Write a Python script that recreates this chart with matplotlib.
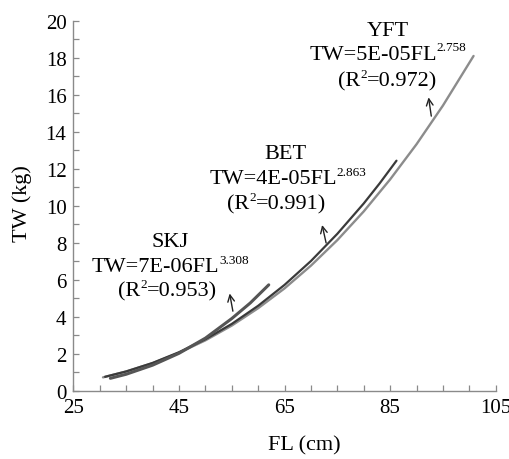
import matplotlib
matplotlib.use('Agg')
import matplotlib.pyplot as plt
from matplotlib.ticker import MultipleLocator, FixedLocator

plt.rcParams['font.family'] = ['Liberation Serif', 'DejaVu Serif']

# values
skj_fl = [32, 35, 40, 45, 50, 55, 58.5, 62]
skj_tw = [0.67, 0.89, 1.38, 2.02, 2.84, 3.9, 4.74, 5.72]

bet_fl = [31, 35, 40, 45, 50, 55, 60, 65, 70, 75, 80, 83, 86.2]
bet_tw = [0.75, 1.04, 1.50, 2.08, 2.78, 3.61, 4.59, 5.72, 7.01, 8.48, 10.12, 11.2, 12.43]

yft_fl = [30.6, 35, 40, 45, 50, 55, 60, 65, 70, 75, 80, 85, 90, 95, 100.8]
yft_tw = [0.72, 1.04, 1.49, 2.05, 2.72, 3.52, 4.46, 5.53, 6.76, 8.14, 9.69, 11.42, 13.32, 15.41, 18.09]

x_ticks = [25, 45, 65, 85, 105]

# each line: list of (text, is_superscript)
labels = {
    'SKJ': [[('SKJ', 0)], [('TW=7E-06FL', 0), ('3.308', 1)], [('(R', 0), ('2', 1), ('=0.953)', 0)]],
    'BET': [[('BET', 0)], [('TW=4E-05FL', 0), ('2.863', 1)], [('(R', 0), ('2', 1), ('=0.991)', 0)]],
    'YFT': [[('YFT', 0)], [('TW=5E-05FL', 0), ('2.758', 1)], [('(R', 0), ('2', 1), ('=0.972)', 0)]],
}
pos = {'SKJ': [(170, 243), (170, 268), (168, 292)],
       'BET': [(285, 155), (288, 180), (277, 205)],
       'YFT': [(388, 32), (388, 55), (388, 82)]}

fig = plt.figure(figsize=(5.1, 4.6), dpi=100)
ax = fig.add_axes([0.144, 0.1485, 0.828, 0.8045])

ax.plot(yft_fl, yft_tw, color='#8c8c8c', lw=1.7, solid_capstyle='round')
ax.plot(bet_fl, bet_tw, color='#3a3a3a', lw=1.6, solid_capstyle='round')
ax.plot(skj_fl, skj_tw, color='#555555', lw=2.2, solid_capstyle='round')

ax.set_xlim(25, 105)
ax.set_ylim(0, 20)
ax.xaxis.set_major_locator(FixedLocator(x_ticks))
ax.xaxis.set_minor_locator(MultipleLocator(5))
ax.yaxis.set_major_locator(MultipleLocator(2))
ax.yaxis.set_minor_locator(MultipleLocator(1))
for s in ['top', 'right']:
    ax.spines[s].set_visible(False)
for s in ['left', 'bottom']:
    ax.spines[s].set_color('#8a8a8a')
    ax.spines[s].set_linewidth(1.0)
ax.tick_params(which='both', direction='in', length=4, width=0.9, color='#8a8a8a',
               labelsize=15, pad=5)

fig.text(304 / 510, 1 - 446 / 460, 'FL (cm)', ha='center', va='center', fontsize=16)
fig.text(21.7 / 510, 1 - 204 / 460, 'TW (kg)', ha='center', va='center', rotation=90, fontsize=16)

# annotation text blocks, superscripts drawn as smaller separate texts
fig.canvas.draw()
renderer = fig.canvas.get_renderer()
W, H = 510, 460
fs, sfs = 16, 9.5
for k, lines in labels.items():
    for (px, py), parts in zip(pos[k], lines):
        widths = []
        for t, sup in parts:
            tmp = fig.text(0, 0, t, fontsize=sfs if sup else fs)
            widths.append(tmp.get_window_extent(renderer).width)
            tmp.remove()
        x = px - sum(widths) / 2
        for (t, sup), w in zip(parts, widths):
            if sup:
                fig.text(x / W, 1 - (py - 7) / H, t, ha='left', va='center', fontsize=sfs)
            else:
                fig.text(x / W, 1 - py / H, t, ha='left', va='center', fontsize=fs)
            x += w

arrows = [((55.3, 4.15), (54.5, 5.4)), ((72.98, 7.84), (72.0, 9.1)), ((92.87, 14.69), (92.2, 16.0))]
for base, tip in arrows:
    ax.annotate('', xy=tip, xytext=base,
                arrowprops=dict(arrowstyle='->', color='#222222', lw=1.0, mutation_scale=12))

fig.savefig('out.png', dpi=100)
